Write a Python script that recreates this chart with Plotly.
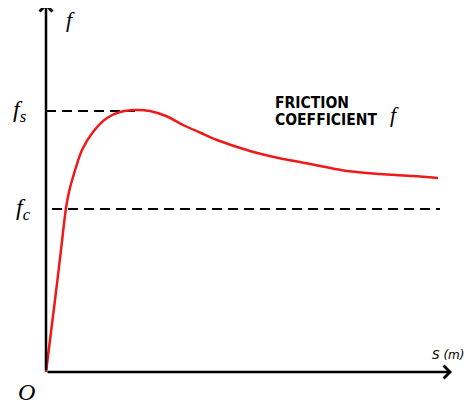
import plotly.graph_objects as go

# Friction coefficient curve (data units: x = slip S, y = f), origin at (0,0)
s_values = [0, 9, 15, 20, 23, 27, 36, 47, 61, 74, 89, 104, 120, 137, 155, 171, 204, 237, 254, 301, 334, 367, 392]
f_values = [0, 72, 122, 164, 180, 195, 222, 240, 254, 260, 262, 261, 256, 247, 239, 232, 221, 213, 210, 201, 198, 196, 194]

f_s = 261     # static friction level
f_c = 163     # kinetic friction level
fs_range = [0, 89]     # extent of f_s dashed guide
fc_range = [6, 394]    # extent of f_c dashed guide

x_axis_end = 406
y_axis_end = 369

fig = go.Figure()

fig.add_trace(go.Scatter(x=fs_range, y=[f_s, f_s], mode="lines",
                         line=dict(color="black", width=2, dash="10px,6px"),
                         hoverinfo="skip", showlegend=False))
fig.add_trace(go.Scatter(x=fc_range, y=[f_c, f_c], mode="lines",
                         line=dict(color="black", width=2, dash="10px,6px"),
                         hoverinfo="skip", showlegend=False))

fig.add_trace(go.Scatter(x=s_values, y=f_values, mode="lines",
                         line=dict(color="#ee1a1a", width=2.5, shape="spline", smoothing=0.8),
                         hoverinfo="skip", showlegend=False))

# axes arrows
for (tx, ty) in [(x_axis_end, 0), (0, y_axis_end)]:
    fig.add_annotation(x=tx, y=ty, ax=0, ay=0, xref="x", yref="y", axref="x", ayref="y",
                       text="", showarrow=True, arrowhead=4, arrowsize=1, arrowwidth=2.5,
                       arrowcolor="black")

serif = "Times New Roman, Liberation Serif, serif"
bold_sans = "DejaVu Sans Condensed, Liberation Sans, sans-serif"
fig.add_annotation(x=24, y=353, text="<i>f</i>", showarrow=False,
                   font=dict(family=serif, size=22, color="black"), xref="x", yref="y")
fig.add_annotation(x=-26, y=f_s, text="<i>f<sub>s</sub></i>", showarrow=False,
                   font=dict(family=serif, size=24, color="black"), xref="x", yref="y")
fig.add_annotation(x=-23, y=f_c, text="<i>f<sub>c</sub></i>", showarrow=False,
                   font=dict(family=serif, size=24, color="black"), xref="x", yref="y")
fig.add_annotation(x=-20, y=-20, text="<i>O</i>", showarrow=False,
                   font=dict(family=serif, size=24, color="black"), xref="x", yref="y")
fig.add_annotation(x=384, y=17, text="<i>S (m)</i>", showarrow=False, xanchor="left",
                   font=dict(family="DejaVu Sans", size=12, color="black"), xref="x", yref="y")
fig.add_annotation(x=227, y=269, text="<b>FRICTION</b>", showarrow=False, xanchor="left",
                   font=dict(family=bold_sans, size=15.5, color="black"), xref="x", yref="y")
fig.add_annotation(x=227, y=252, text="<b>COEFFICIENT</b>", showarrow=False, xanchor="left",
                   font=dict(family=bold_sans, size=15.5, color="black"), xref="x", yref="y")
fig.add_annotation(x=348, y=258, text="<i>f</i>", showarrow=False,
                   font=dict(family=serif, size=22, color="black"), xref="x", yref="y")

fig.update_layout(
    width=472, height=410,
    margin=dict(l=0, r=0, t=0, b=0),
    paper_bgcolor="white", plot_bgcolor="white",
    xaxis=dict(range=[-38, 434], visible=False, fixedrange=True),
    yaxis=dict(range=[-46, 364], visible=False, fixedrange=True),
    showlegend=False,
)

fig.write_html("out.html")
